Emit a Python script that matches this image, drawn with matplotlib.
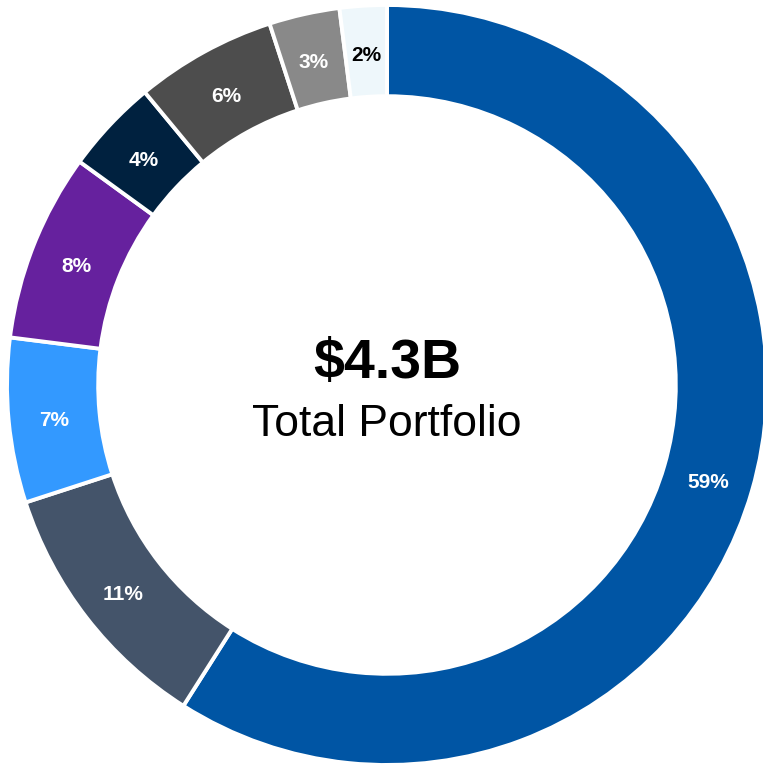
#!/usr/bin/env python3
"""Portfolio allocation donut chart."""

import matplotlib
matplotlib.use('Agg')
import matplotlib.pyplot as plt

# Data (clockwise from 12 o'clock)
shares = [59, 11, 7, 8, 4, 6, 3, 2]
colors = ['#0055A4', '#44546A', '#3399FF', '#66219E',
          '#00213F', '#4D4D4D', '#898989', '#EEF7FB']
label_colors = ['white', 'white', 'white', 'white',
                'white', 'white', 'white', 'black']
total_text = '$4.3B'
subtitle = 'Total Portfolio'

FONT = ['Liberation Sans Narrow', 'Liberation Sans', 'DejaVu Sans']
plt.rcParams['font.family'] = FONT

W, H = 763, 767
fig = plt.figure(figsize=(W / 100, H / 100), dpi=100)
fig.patch.set_facecolor('white')

# ring centre and outer radius in pixels
cx, cy, r = 387, 385, 380
ax = fig.add_axes([(cx - r) / W, (H - cy - r) / H, 2 * r / W, 2 * r / H])

inner = 0.76
wedges, texts, autotexts = ax.pie(
    shares, colors=colors, startangle=90, counterclock=False, radius=1,
    autopct='%.0f%%', pctdistance=(1 + inner) / 2,
    wedgeprops=dict(width=1 - inner, edgecolor='white', linewidth=2.8),
    textprops=dict(fontsize=15, fontweight='bold'))
for t, c in zip(autotexts, label_colors):
    t.set_color(c)
    x, y = t.get_position()
    t.set_position((x, y - 0.011))  # small nudge down, like the original

# pie() resets the limits, so set them afterwards
ax.set_xlim(-1, 1)
ax.set_ylim(-1, 1)
ax.set_aspect('equal')
ax.axis('off')

ax.text(0, 0.055, total_text, ha='center', va='center', fontsize=40,
        fontweight='bold', color='black')
ax.text(0, -0.105, subtitle, ha='center', va='center', fontsize=32,
        color='black')

fig.savefig('out.png', dpi=100, facecolor='white')
